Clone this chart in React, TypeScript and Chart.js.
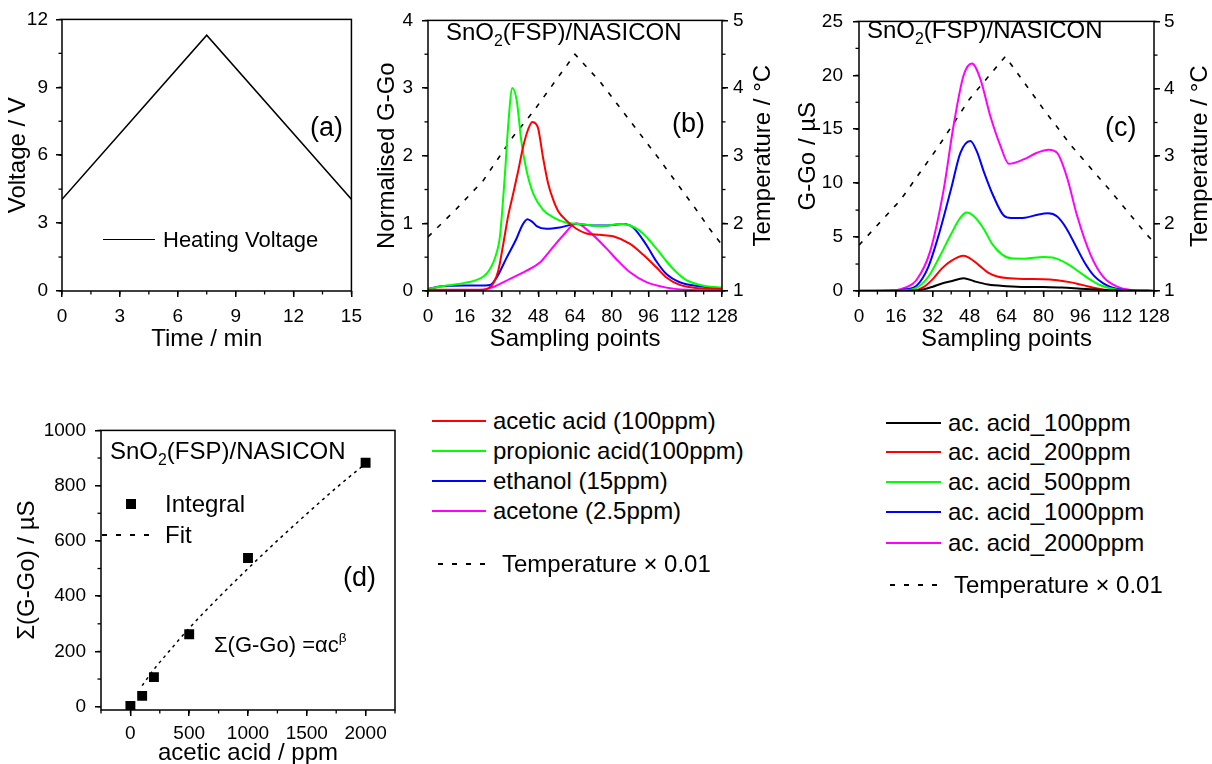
import React, { useEffect, useRef } from 'react';
import { Chart, registerables } from 'chart.js';

Chart.register(...registerables);

const FONT = '"Liberation Sans", Arial, Helvetica, sans-serif';
const TICK_FONT = { family: FONT, size: 19 };
const TITLE_FONT = { family: FONT, size: 24 };

const RED = '#ff0000';
const GREEN = '#00ff00';
const BLUE = '#0000ff';
const MAGENTA = '#ff00ff';
const BLACK = '#000000';

// ---------------- tick labels ----------------
const aTimeTicks = [0, 3, 6, 9, 12, 15];
const aVoltTicks = [0, 3, 6, 9, 12];
const sampleTicks = [0, 16, 32, 48, 64, 80, 96, 112, 128];
const bNormTicks = [0, 1, 2, 3, 4];
const tempTicks = [1, 2, 3, 4, 5];
const cGTicks = [0, 5, 10, 15, 20, 25];
const dConcTicks = [0, 500, 1000, 1500, 2000];
const dIntTicks = [0, 200, 400, 600, 800, 1000];

// ---------------- (a) heating voltage ----------------
const timeMin = [0, 7.5, 15];
const heatingVoltage = [4.05, 11.3, 4.05];

// ---------------- (b) normalised responses ----------------
const bAceticX = [0, 10, 20, 24, 26.2, 28.4, 30.6, 32.7, 34.9, 37.1, 39.3, 41.4, 43.5, 45.4, 47, 48, 50.1, 52.3, 54.5, 56.7, 60.3, 64.6, 69, 74.8, 80.6, 87.8, 93.6, 99.4, 103.8, 109.6, 118.3, 128];
const bAceticY = [0.02, 0.02, 0.02, 0.02, 0.04, 0.11, 0.3, 0.68, 1.11, 1.44, 1.78, 2.13, 2.38, 2.5, 2.47, 2.4, 1.97, 1.59, 1.35, 1.18, 1.04, 0.92, 0.85, 0.83, 0.81, 0.7, 0.54, 0.35, 0.2, 0.09, 0.04, 0.03];
const bPropionicX = [0, 8, 16, 20, 24, 26.5, 28.4, 30, 31.3, 33.5, 34.9, 36.7, 38.6, 40.7, 42.9, 45.8, 50.1, 54.5, 60.3, 66, 74.8, 84.9, 89.3, 93.6, 99.4, 103.8, 108.1, 112.5, 121.2, 128];
const bPropionicY = [0.03, 0.08, 0.12, 0.15, 0.21, 0.3, 0.42, 0.58, 0.8, 1.73, 2.44, 3.0, 2.82, 2.2, 1.78, 1.44, 1.2, 1.09, 1.01, 0.99, 0.96, 0.99, 0.95, 0.85, 0.63, 0.44, 0.28, 0.16, 0.07, 0.05];
const bEthanolX = [0, 6, 16, 22, 27, 29.9, 34.2, 38.6, 41, 43.3, 45.5, 47.3, 51.6, 57.4, 64.6, 71.9, 78, 84.9, 89.3, 95.1, 99.4, 103.8, 109.6, 118.3, 128];
const bEthanolY = [0.03, 0.07, 0.08, 0.08, 0.09, 0.2, 0.49, 0.78, 0.97, 1.06, 1.02, 0.96, 0.92, 0.94, 0.99, 0.97, 0.97, 0.99, 0.94, 0.68, 0.44, 0.25, 0.13, 0.07, 0.04];
const bAcetoneX = [0, 16, 24, 28.4, 35.7, 42.9, 48.7, 53, 58.8, 64.6, 70.4, 77.7, 82, 87.8, 95.1, 103.8, 112.5, 128];
const bAcetoneY = [0.01, 0.01, 0.02, 0.06, 0.18, 0.3, 0.42, 0.59, 0.82, 1.0, 0.87, 0.63, 0.47, 0.28, 0.13, 0.05, 0.02, 0.01];
const bTempX = [0, 12, 24, 37, 46, 56, 64, 75, 82, 100, 116, 122.6, 128];
const bTempY = [1.8, 2.2, 2.63, 3.28, 3.66, 4.13, 4.5, 4.09, 3.78, 2.98, 2.24, 1.92, 1.68];
const bLabels = ['acetic acid (100ppm)', 'propionic acid(100ppm)', 'ethanol (15ppm)', 'acetone (2.5ppm)'];

// ---------------- (c) acetic acid concentrations ----------------
const c100X = [0, 24, 28, 32, 36, 40, 45.4, 50, 56, 64, 72, 80, 88, 96, 104, 112, 120, 128];
const c100Y = [0.01, 0.03, 0.15, 0.4, 0.7, 0.9, 1.19, 0.9, 0.6, 0.45, 0.38, 0.38, 0.32, 0.22, 0.12, 0.05, 0.02, 0.01];
const c200X = [0, 24, 28, 32, 36, 40, 45.4, 48, 52, 56, 60, 64, 72, 80, 86, 92, 96, 100, 104, 108, 112, 128];
const c200Y = [0.01, 0.05, 0.35, 1.1, 2.1, 2.8, 3.27, 3.05, 2.4, 1.7, 1.35, 1.2, 1.12, 1.1, 1.0, 0.8, 0.6, 0.4, 0.2, 0.08, 0.03, 0.01];
const c500X = [0, 20, 25, 30, 35, 40, 44, 46.8, 50, 54, 58, 62, 66, 72, 80, 84, 88, 92, 96, 100, 104, 108, 112, 116, 128];
const c500Y = [0.01, 0.08, 0.3, 1.3, 3.2, 5.3, 6.8, 7.27, 6.9, 5.8, 4.3, 3.4, 3.03, 3.0, 3.15, 3.1, 2.8, 2.3, 1.7, 1.1, 0.6, 0.3, 0.12, 0.05, 0.01];
const c1000X = [0, 16, 20, 25, 30, 35, 40, 44, 48.3, 51.2, 54.1, 58.4, 62.8, 66, 72, 78, 82, 86, 90, 94, 98, 102, 106, 110, 114, 120, 128];
const c1000Y = [0.02, 0.05, 0.15, 0.5, 2.2, 5.5, 9.5, 12.8, 13.9, 12.9, 11.1, 8.76, 7.0, 6.77, 6.8, 7.1, 7.2, 6.9, 5.8, 4.2, 2.6, 1.4, 0.7, 0.3, 0.12, 0.03, 0.01];
const c2000X = [0, 16, 20, 25, 30.9, 36.7, 41, 45.4, 49, 52.6, 57, 61.3, 65, 71.4, 77, 82.3, 86, 90.3, 94.6, 100.4, 106, 112, 117.8, 128];
const c2000Y = [0.03, 0.08, 0.3, 1.04, 3.7, 9.35, 15.3, 20, 21.1, 19.7, 16.2, 13.5, 11.8, 12.2, 12.8, 13.1, 12.8, 10.5, 7, 3.4, 1.3, 0.4, 0.1, 0.02];
const cTempX = [0, 18, 34, 48, 63.5, 80, 92, 109, 124, 128];
const cTempY = [1.68, 2.35, 3.12, 3.85, 4.48, 3.7, 3.16, 2.49, 1.87, 1.72];
const cLabels = ['ac. acid_100ppm', 'ac. acid_200ppm', 'ac. acid_500ppm', 'ac. acid_1000ppm', 'ac. acid_2000ppm'];

// ---------------- (d) integral vs concentration ----------------
const dConc = [0, 100, 200, 500, 1000, 2000];
const dIntegral = [3, 39, 107, 262, 538, 883];
const dFitConc = [100, 200, 300, 500, 750, 1000, 1250, 1500, 1750, 2000];
const dFitValue = [76, 135, 186, 284, 395, 500, 601, 698, 792, 880];

const tempLabel = 'Temperature \u00d7 0.01';

const pts = (xs: number[], ys: number[]) => xs.map((x, i) => ({ x, y: ys[i] }));

const line = (data: any[], color: string, width = 2, dash: number[] = [], smooth = true, yAxisID = 'y') => ({
  data,
  borderColor: color,
  backgroundColor: color,
  borderWidth: width,
  borderDash: dash,
  pointRadius: 0,
  fill: false,
  tension: 0,
  cubicInterpolationMode: smooth ? 'monotone' : 'default',
  yAxisID,
});

function linAxis(o: any) {
  return {
    type: 'linear',
    position: o.position,
    min: o.min,
    max: o.max,
    afterBuildTicks: (s: any) => {
      s.ticks = o.values.map((v: number) => ({ value: v }));
    },
    ticks: {
      autoSkip: false,
      maxRotation: 0,
      minRotation: 0,
      color: '#000',
      font: TICK_FONT,
      padding: o.tickPad,
      callback: (v: any) => String(v),
    },
    grid: {
      display: true,
      drawOnChartArea: false,
      drawTicks: true,
      tickLength: 6,
      tickWidth: 1.5,
      tickColor: '#000',
      color: '#000',
      lineWidth: 1.5,
    },
    border: { display: false },
    title: o.title
      ? { display: true, text: o.title, color: '#000', font: TITLE_FONT, padding: o.titlePad }
      : { display: false },
    afterFit: (s: any) => {
      if (s.isHorizontal()) s.height = o.size;
      else s.width = o.size;
    },
  };
}

const framePlugin = {
  id: 'frame',
  afterDraw(chart: any, _args: any, opts: any) {
    const { ctx, chartArea: a } = chart;
    ctx.save();
    ctx.strokeStyle = '#000';
    ctx.lineWidth = 1.5;
    ctx.strokeRect(a.left, a.top, a.right - a.left, a.bottom - a.top);
    const minor = (opts && opts.minor) || {};
    ctx.lineWidth = 1.3;
    Object.keys(minor).forEach((id) => {
      const scale = chart.scales[id];
      if (!scale) return;
      const step = minor[id];
      const i0 = Math.ceil(scale.min / step - 1e-9);
      const i1 = Math.floor(scale.max / step + 1e-9);
      for (let i = i0; i <= i1; i++) {
        const p = scale.getPixelForValue(i * step);
        ctx.beginPath();
        if (scale.isHorizontal()) {
          ctx.moveTo(p, a.bottom);
          ctx.lineTo(p, a.bottom + 3.5);
        } else if (scale.position === 'left') {
          ctx.moveTo(a.left, p);
          ctx.lineTo(a.left - 3.5, p);
        } else {
          ctx.moveTo(a.right, p);
          ctx.lineTo(a.right + 3.5, p);
        }
        ctx.stroke();
      }
    });
    const rt = opts && opts.rightTitle;
    if (rt && rt.text) {
      ctx.fillStyle = '#000';
      ctx.font = `24px ${FONT}`;
      ctx.textAlign = 'center';
      ctx.textBaseline = 'middle';
      ctx.translate(rt.x, (a.top + a.bottom) / 2);
      ctx.rotate(-Math.PI / 2);
      ctx.fillText(rt.text, 0, 0);
    }
    ctx.restore();
  },
};

function baseOptions(padding: any, scales: any, frame: any) {
  return {
    responsive: false,
    maintainAspectRatio: false,
    animation: false,
    devicePixelRatio: 1,
    layout: { padding },
    plugins: { legend: { display: false }, tooltip: { enabled: false }, frame },
    scales,
    elements: { point: { radius: 0 } },
  };
}

const cfgA = () => ({
  type: 'line',
  data: { datasets: [line(pts(timeMin, heatingVoltage), BLACK, 1.6, [], false)] },
  options: baseOptions(
    { top: 11, right: 14, left: 0, bottom: 0 },
    {
      x: linAxis({ min: 0, max: 15, values: aTimeTicks, title: 'Time / min', titlePad: { top: 0, bottom: 6 }, tickPad: 8, size: 69 }),
      y: linAxis({ position: 'left', min: 0, max: 12, values: aVoltTicks, title: 'Voltage / V', titlePad: { top: 4, bottom: 0 }, tickPad: 8, size: 62 }),
    },
    { minor: { x: 1.5, y: 1.5 } }
  ),
  plugins: [framePlugin],
});

const cfgB = () => ({
  type: 'line',
  data: {
    datasets: [
      line(pts(bAceticX, bAceticY), RED),
      line(pts(bPropionicX, bPropionicY), GREEN),
      line(pts(bEthanolX, bEthanolY), BLUE),
      line(pts(bAcetoneX, bAcetoneY), MAGENTA),
      line(pts(bTempX, bTempY), BLACK, 1.6, [5, 8], false, 'y2'),
    ],
  },
  options: baseOptions(
    { top: 11, right: 0, left: 0, bottom: 0 },
    {
      x: linAxis({ min: 0, max: 128, values: sampleTicks, title: 'Sampling points', titlePad: { top: 0, bottom: 6 }, tickPad: 8, size: 69 }),
      y: linAxis({ position: 'left', min: 0, max: 4, values: bNormTicks, title: 'Normalised G-Go', titlePad: { top: 3, bottom: 0 }, tickPad: 9, size: 58 }),
      y2: linAxis({ position: 'right', min: 1, max: 5, values: tempTicks, tickPad: 5, size: 68 }),
    },
    { minor: { x: 8, y: 0.5, y2: 0.5 }, rightTitle: { text: 'Temperature / \u00b0C', x: 393 } }
  ),
  plugins: [framePlugin],
});

const cfgC = () => ({
  type: 'line',
  data: {
    datasets: [
      line(pts(c100X, c100Y), BLACK),
      line(pts(c200X, c200Y), RED),
      line(pts(c500X, c500Y), GREEN),
      line(pts(c1000X, c1000Y), BLUE),
      line(pts(c2000X, c2000Y), MAGENTA),
      line(pts(cTempX, cTempY), BLACK, 1.6, [5, 8], false, 'y2'),
    ],
  },
  options: baseOptions(
    { top: 11, right: 0, left: 0, bottom: 0 },
    {
      x: linAxis({ min: 0, max: 128, values: sampleTicks, title: 'Sampling points', titlePad: { top: 0, bottom: 6 }, tickPad: 8, size: 69 }),
      y: linAxis({ position: 'left', min: 0, max: 25, values: cGTicks, title: 'G-Go / \u00b5S', titlePad: { top: 4, bottom: 0 }, tickPad: 10, size: 69 }),
      y2: linAxis({ position: 'right', min: 1, max: 5, values: tempTicks, tickPad: 4, size: 58 }),
    },
    { minor: { x: 8, y: 2.5, y2: 0.5 }, rightTitle: { text: 'Temperature / \u00b0C', x: 410 } }
  ),
  plugins: [framePlugin],
});

const cfgD = () => ({
  type: 'line',
  data: {
    datasets: [
      {
        data: pts(dConc, dIntegral),
        showLine: false,
        pointStyle: 'rect',
        pointRadius: 7,
        backgroundColor: BLACK,
        borderColor: BLACK,
        borderWidth: 0,
      },
      line(pts(dFitConc, dFitValue), BLACK, 1.5, [3, 4]),
    ],
  },
  options: baseOptions(
    { top: 19, right: 25, left: 0, bottom: 0 },
    {
      x: linAxis({ min: -250, max: 2250, values: dConcTicks, title: 'acetic acid / ppm', titlePad: { top: 0, bottom: -4 }, tickPad: 6, size: 54 }),
      y: linAxis({ position: 'left', min: -12, max: 1000, values: dIntTicks, title: '\u03a3(G-Go) / \u00b5S', titlePad: { top: 13, bottom: 0 }, tickPad: 9, size: 101 }),
    },
    { minor: { x: 250, y: 100 } }
  ),
  plugins: [framePlugin],
});

function ChartPanel({ left, top, width, height, makeConfig }: any) {
  const ref = useRef<HTMLCanvasElement>(null);
  useEffect(() => {
    const chart = new Chart(ref.current as HTMLCanvasElement, makeConfig());
    return () => chart.destroy();
  }, []);
  return (
    <canvas
      ref={ref}
      width={width}
      height={height}
      style={{ position: 'absolute', left, top, width, height, display: 'block' }}
    />
  );
}

function Txt({ x, y, size, children }: any) {
  return (
    <div
      style={{
        position: 'absolute',
        left: x,
        top: y,
        transform: 'translateY(-50%)',
        fontSize: size,
        lineHeight: 1,
        whiteSpace: 'nowrap',
        color: '#000',
        fontFamily: FONT,
      }}
    >
      {children}
    </div>
  );
}

function KeyLine({ x1, x2, y, color, dashed }: any) {
  if (!dashed) {
    return (
      <div style={{ position: 'absolute', left: x1, top: y - 0.75, width: x2 - x1, height: 1.5, background: color }} />
    );
  }
  const segs = [];
  for (let x = x1, i = 0; x < x2; x += 14, i++) {
    segs.push(
      <div key={i} style={{ position: 'absolute', left: x, top: y - 0.75, width: Math.min(5, x2 - x), height: 1.5, background: color }} />
    );
  }
  return <>{segs}</>;
}

const Sensor = () => (
  <span>
    SnO<span style={{ fontSize: '0.66em', position: 'relative', top: '0.35em' }}>2</span>(FSP)/NASICON
  </span>
);

const bColors = [RED, GREEN, BLUE, MAGENTA];
const bKeyY = [421, 451, 481, 511];
const cColors = [BLACK, RED, GREEN, BLUE, MAGENTA];
const cKeyY = [423, 452, 482, 512, 543];

export default function App() {
  return (
    <div
      style={{
        position: 'absolute',
        left: 0,
        top: 0,
        width: 1212,
        height: 764,
        background: '#fff',
        overflow: 'hidden',
        fontFamily: FONT,
      }}
    >
      <ChartPanel left={0} top={0} width={370} height={360} makeConfig={cfgA} />
      <ChartPanel left={370} top={0} width={420} height={360} makeConfig={cfgB} />
      <ChartPanel left={790} top={0} width={422} height={360} makeConfig={cfgC} />
      <ChartPanel left={0} top={410} width={420} height={354} makeConfig={cfgD} />

      {/* panel (a) annotations */}
      <Txt x={310} y={127} size={27}>(a)</Txt>
      <KeyLine x1={103} x2={155} y={239.5} color={BLACK} />
      <Txt x={163} y={240} size={22}>Heating Voltage</Txt>

      {/* panel (b) annotations */}
      <Txt x={446} y={32} size={24}><Sensor /></Txt>
      <Txt x={672} y={123} size={27}>(b)</Txt>

      {/* panel (c) annotations */}
      <Txt x={867} y={30} size={24}><Sensor /></Txt>
      <Txt x={1105} y={127} size={27}>(c)</Txt>

      {/* panel (d) annotations */}
      <Txt x={110} y={451} size={24}><Sensor /></Txt>
      <div style={{ position: 'absolute', left: 126, top: 499, width: 10, height: 10, background: BLACK }} />
      <Txt x={165} y={504} size={24}>Integral</Txt>
      <KeyLine x1={102} x2={150} y={535} color={BLACK} dashed />
      <Txt x={165} y={535} size={24}>Fit</Txt>
      <Txt x={343} y={577} size={27}>(d)</Txt>
      <Txt x={214} y={645} size={22}>
        {'\u03a3(G-Go) =\u03b1c'}
        <span style={{ fontSize: '0.62em', position: 'relative', top: '-0.7em' }}>{'\u03b2'}</span>
      </Txt>

      {/* legend for (b) */}
      {bLabels.map((t, i) => (
        <React.Fragment key={t}>
          <KeyLine x1={432} x2={486} y={bKeyY[i]} color={bColors[i]} />
          <Txt x={493} y={bKeyY[i]} size={24}>{t}</Txt>
        </React.Fragment>
      ))}
      <KeyLine x1={438} x2={486} y={564} color={BLACK} dashed />
      <Txt x={502} y={564} size={24}>{tempLabel}</Txt>

      {/* legend for (c) */}
      {cLabels.map((t, i) => (
        <React.Fragment key={t}>
          <KeyLine x1={886} x2={941} y={cKeyY[i]} color={cColors[i]} />
          <Txt x={948} y={cKeyY[i]} size={24}>{t}</Txt>
        </React.Fragment>
      ))}
      <KeyLine x1={890} x2={938} y={585} color={BLACK} dashed />
      <Txt x={954} y={585} size={24}>{tempLabel}</Txt>
    </div>
  );
}
